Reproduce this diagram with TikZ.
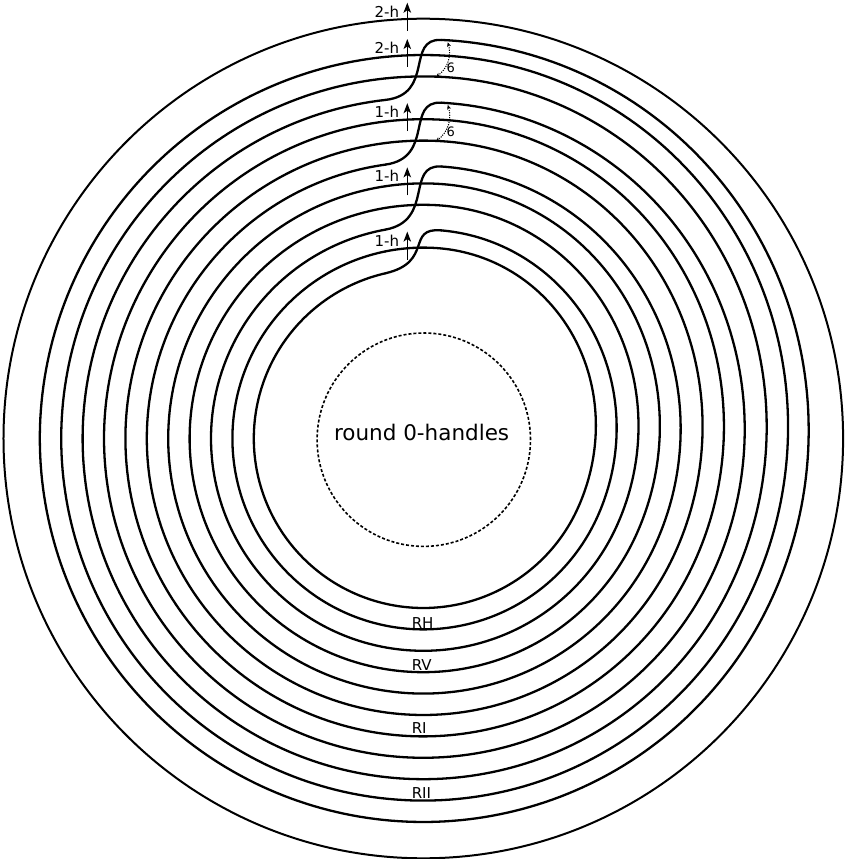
\documentclass[tikz,border=0pt]{standalone}
\usepackage{fontspec}
\setmainfont{DejaVu Sans}
\usetikzlibrary{arrows.meta}
\usetikzlibrary{positioning}

\tikzset{
  handleline/.style={line width=2.3pt,line cap=round,line join=round},
  outerline/.style={line width=2pt},
  zerobound/.style={line width=1.6pt,dash pattern=on 3pt off 2pt},
  harrow/.style={line width=1.2pt,-{Stealth[length=10pt,width=7.5pt,inset=2.5pt]}},
  sixarrow/.style={line width=1pt,dash pattern=on 1.2pt off 1.2pt,{Stealth[length=4.5pt,width=4pt]}-{Stealth[length=4.5pt,width=4pt]}},
  hlabel/.style={inner sep=0pt,font=\fontsize{15}{17}\selectfont},
  rlabel/.style={inner sep=0pt,font=\fontsize{15}{17}\selectfont},
  sixlabel/.style={inner sep=0pt,font=\fontsize{13}{15}\selectfont},
  zerolabel/.style={inner sep=0pt,font=\fontsize{21.5}{24}\selectfont}
}

\begin{document}
\begin{tikzpicture}[x=1pt,y=1pt,
  declare function={blend(\angv,\angf)=(\angv>=\angf)?1:((\angv<=-25)?0:(1-cos((180/(\angf+25))*(\angv+25)))/2);}]
\useasboundingbox (-423.3,-420.5) rectangle (421.7,438.5);
\draw[outerline] (0,0) circle (419.8);
\foreach \j/\dr/\dx in {0/21.4/-38,1/18/18,2/21.4/-38,3/21.4/-38,4/17.5/18,5/21.4/-38,6/21.4/-38,7/17/18,8/21.4/-38,9/21.4/-38,10/15.5/18}{
  \pgfmathsetmacro\rlev{169.5+21.4*\j}
  \pgfmathsetmacro\rtop{\rlev+\dr}
  \pgfmathsetmacro\aflat{acos(18/\rtop)}
  \pgfmathsetmacro\astart{acos(\dx/\rtop)}
  \pgfmathsetmacro\aend{acos(-38/\rlev)-360}
  \draw[handleline] plot[domain=\astart:\aend,samples=300] (\x:{\rlev+\dr*blend(\x,\aflat)});
}
\foreach \k/\j/\dr in {0/1/18,2/4/17.5,5/7/17,8/10/15.5}{
  \pgfmathsetmacro\rlev{169.5+21.4*\k}
  \pgfmathsetmacro\rtop{169.5+21.4*\j+\dr}
  \pgfmathsetmacro\aleft{acos(-38/\rlev)}
  \pgfmathsetmacro\aright{acos(18/\rtop)}
  \draw[handleline] (\aleft:\rlev) .. controls +(\aleft-90:50) and +(\aright+90:36) .. (\aright:\rtop);
}
\draw[zerobound] (0.5,-1.2) circle (106.7);
\node at (-1.7,-2.2)[zerolabel,anchor=base](zero){round 0-handles};
\foreach \n/\r/\txt in {a/419.8/2-h,b/383.5/2-h,c/319.3/1-h,d/255.1/1-h,e/190.9/1-h}{
  \coordinate (tip\n) at (-16,\r+16);
  \draw[harrow] (-16,\r-12) -- (tip\n);
  \node at (tip\n)[hlabel,anchor=base east,xshift=-8,yshift=-14.5](lab\n){\txt};
}
\foreach \n/\rtop/\rlow in {a/397/361.6,b/334.5/297.4}{
  \coordinate (sixtop\n) at ({acos(24.5/\rtop)}:\rtop);
  \coordinate (sixlow\n) at ({acos(12.5/\rlow)}:\rlow);
  \draw[sixarrow] (sixtop\n) to[bend left=35] (sixlow\n);
  \node at (27.5,\rlow+9)[sixlabel](six\n){6};
}
\node at (-11.7,-189.5)[rlabel,anchor=base west](rh){RH};
\node at (-11.7,-231.5)[rlabel,anchor=base west](rv){RV};
\node at (-11.7,-294.5)[rlabel,anchor=base west](ri){RI};
\node at (-11.7,-359.5)[rlabel,anchor=base west](rii){RII};
\end{tikzpicture}
\end{document}
